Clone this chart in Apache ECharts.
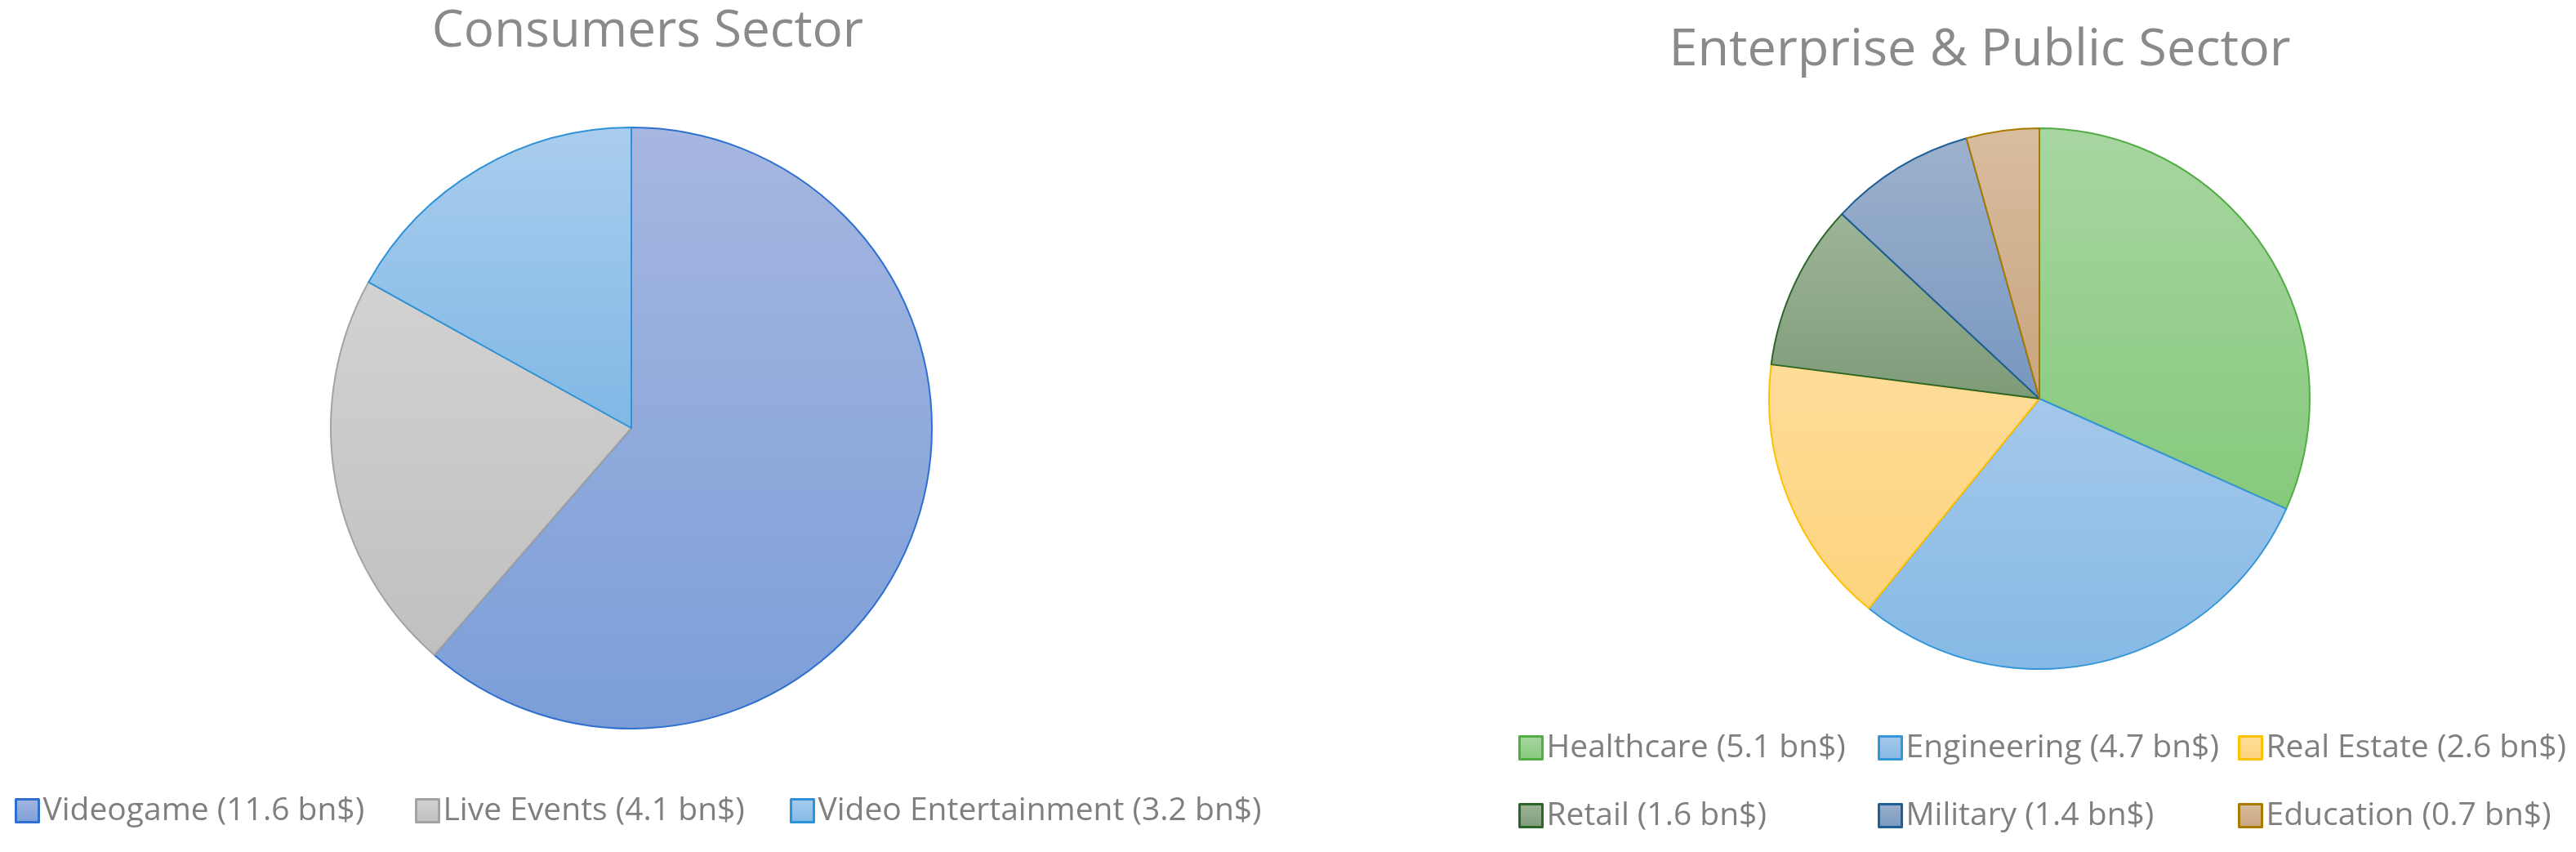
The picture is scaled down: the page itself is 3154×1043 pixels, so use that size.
<!DOCTYPE html>
<html>
<head>
<meta charset="utf-8">
<script src="https://cdn.jsdelivr.net/npm/echarts@6/dist/echarts.min.js"></script>
<style>
html,body{margin:0;padding:0;background:#fff;}
#chart{width:3154px;height:1043px;}
</style>
</head>
<body>
<div id="chart"></div>
<script>
// ---- data ----
const consumerCategories = ['Videogame', 'Live Events', 'Video Entertainment'];
const consumerValues = [11.6, 4.1, 3.2];
const enterpriseCategories = ['Healthcare', 'Engineering', 'Real Estate', 'Retail', 'Military', 'Education'];
const enterpriseValues = [5.1, 4.7, 2.6, 1.6, 1.4, 0.7];
const consumerTitle = 'Consumers Sector';
const enterpriseTitle = 'Enterprise & Public Sector';
const unit = 'bn$';

// ---- styles ----
const consumerStyles = [
  {top: '#a6b7e0', bottom: '#7b9ed8', border: '#2f6fd0'},
  {top: '#d2d2d2', bottom: '#c0c0c0', border: '#a3a3a3'},
  {top: '#aacdee', bottom: '#80b8e5', border: '#2c93d8'}
];
const enterpriseStyles = [
  {top: '#a8d6a1', bottom: '#86c97c', border: '#52ad45'},
  {top: '#a5c8eb', bottom: '#85b9e5', border: '#3495d8'},
  {top: '#fedd99', bottom: '#fdd47d', border: '#ffc000'},
  {top: '#9db598', bottom: '#7e9b78', border: '#2c6528'},
  {top: '#9db1cd', bottom: '#7797bf', border: '#1e5f96'},
  {top: '#d8bd9f', bottom: '#c9a47e', border: '#a97a00'}
];

function grad(s) {
  return {type: 'linear', x: 0, y: 0, x2: 0, y2: 1,
    colorStops: [{offset: 0, color: s.top}, {offset: 1, color: s.bottom}]};
}
function label(cat, val) { return cat + ' (' + val + ' ' + unit + ')'; }

const consumerData = consumerCategories.map((c, i) => ({
  name: label(c, consumerValues[i]), value: consumerValues[i],
  itemStyle: {color: grad(consumerStyles[i]), borderColor: consumerStyles[i].border, borderWidth: 2}
}));
const enterpriseData = enterpriseCategories.map((c, i) => ({
  name: label(c, enterpriseValues[i]), value: enterpriseValues[i],
  itemStyle: {color: grad(enterpriseStyles[i]), borderColor: enterpriseStyles[i].border, borderWidth: 2}
}));

const FONT = '"Open Sans", sans-serif';
function legendAt(name, left, top) {
  return {
    data: [name], left: left, top: top, orient: 'horizontal',
    icon: 'rect', itemWidth: 28, itemHeight: 28, itemGap: 0,
    selectedMode: false,
    itemStyle: {borderWidth: 3},
    textStyle: {color: '#7f7f7f', fontSize: 39, fontFamily: FONT, padding: [0, 0, 0, 0]}
  };
}

const legends = [];
const cLeft = [13, 503, 962];
consumerData.forEach((d, i) => legends.push(legendAt(d.name, cLeft[i], 968)));
const eLeft = [1854, 2294, 2735];
enterpriseData.forEach((d, i) => legends.push(legendAt(d.name, eLeft[i % 3], i < 3 ? 891 : 974)));

const option = {
  animation: false,
  backgroundColor: '#ffffff',
  title: [
    {text: consumerTitle, left: 788, top: 3, textAlign: 'center',
      textStyle: {color: '#8a8a8a', fontSize: 62, fontWeight: 'normal', fontFamily: FONT}},
    {text: enterpriseTitle, left: 2419, top: 26, textAlign: 'center',
      textStyle: {color: '#8a8a8a', fontSize: 63, fontWeight: 'normal', fontFamily: FONT}}
  ],
  legend: legends,
  series: [
    {type: 'pie', center: [773, 524], radius: 368, startAngle: 90, clockwise: true,
      label: {show: false}, labelLine: {show: false}, emphasis: {disabled: true},
      data: consumerData},
    {type: 'pie', center: [2497, 488], radius: 331, startAngle: 90, clockwise: true,
      label: {show: false}, labelLine: {show: false}, emphasis: {disabled: true},
      data: enterpriseData}
  ]
};

const chart = echarts.init(document.getElementById('chart'), null, {renderer: 'canvas'});
chart.setOption(option);
</script>
</body>
</html>
